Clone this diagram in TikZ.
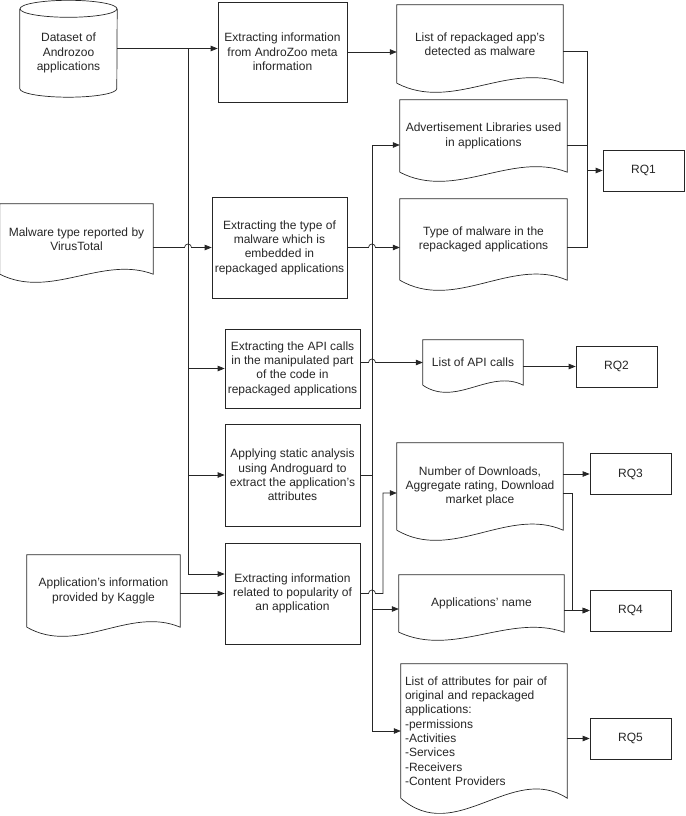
\documentclass[tikz,border=0pt]{standalone}
\usepackage{fontspec}
\setmainfont{Liberation Sans}
\usepackage{xcolor}
\usepackage{tikz}
\usetikzlibrary{arrows.meta, calc}
\definecolor{ink}{HTML}{262626}

% document outline with a wavy bottom, drawn round a node
\newcommand{\docshape}[2]{%
  \draw[wire] (#1.south west) -- (#1.north west) -- (#1.north east) -- (#1.south east)
    .. controls ($(#1.south east)!0.33!(#1.south west)+(0pt,2.4*#2pt)$)
    and ($(#1.south west)!0.33!(#1.south east)+(0pt,-3.2*#2pt)$) .. (#1.south west);}

\begin{document}
\begin{tikzpicture}[
  x=1pt, y=-1pt,
  every node/.style={font=\fontsize{12}{14.3}\selectfont, text=ink},
  wire/.style={draw=ink, line width=0.7pt},
  arr/.style={wire, -{Triangle[length=7pt, width=5.5pt]}},
  proc/.style={draw=ink, line width=0.7pt, rectangle, align=center, inner sep=1pt},
  docnode/.style={rectangle, align=center, inner sep=1pt}
]
\useasboundingbox (0,0) rectangle (685,816);

% sources
\node[align=center, minimum width=97pt, minimum height=88pt] (data) at (68.5,53)
      {Dataset of\\Androzoo\\applications};
\draw[wire] (data.north west) -- ($(data.south west)+(0pt,8.5pt)$)
  arc[start angle=180, end angle=360, x radius=48.5pt, y radius=8.5pt]
  -- (data.north east);
\draw[wire] (data.north) ellipse[x radius=48.5pt, y radius=8.5pt];
\node[docnode, minimum width=153pt, minimum height=70pt] (virus) at (76.5,239)
      {Malware type reported by\\VirusTotal};
\node[docnode, minimum width=153pt, minimum height=72pt] (kaggle) at (103.5,591)
      {Application’s information\\provided by Kaggle};

% processing steps
\node[proc, minimum width=129pt, minimum height=100pt] (meta) at (282.5,52)
      {Extracting information\\from AndroZoo meta\\information};
\node[proc, minimum width=135pt, minimum height=101pt] (kind) at (279.5,247.5)
      {Extracting the type of\\malware which is\\embedded in\\repackaged applications};
\node[proc, minimum width=135pt, minimum height=79pt] (api) at (292.5,368.5)
      {Extracting the API calls\\in the manipulated part\\of the code in\\repackaged applications};
\node[proc, minimum width=135pt, minimum height=102pt] (static) at (292.5,475)
      {Applying static analysis\\using Androguard to\\extract the application’s\\attributes};
\node[proc, minimum width=135pt, minimum height=101pt] (popular) at (292.5,593.5)
      {Extracting information\\related to popularity of\\an application};

% results
\node[docnode, minimum width=166pt, minimum height=78pt] (rep) at (480,44)
      {List of repackaged app’s\\detected as malware};
\node[docnode, minimum width=167pt, minimum height=72pt] (ads) at (483.5,136)
      {Advertisement Libraries used\\in applications};
\node[docnode, minimum width=167pt, minimum height=81pt] (mal) at (483.5,239.5)
      {Type of malware in the\\repackaged applications};
\node[docnode, minimum width=100pt, minimum height=45pt] (calls) at (473,362.5)
      {List of API calls};
\node[docnode, minimum width=166pt, minimum height=87pt] (pop) at (480,486.5)
      {Number of Downloads,\\Aggregate rating, Download\\market place};
\node[docnode, minimum width=165pt, minimum height=57pt] (names) at (481.5,603.5)
      {Applications’ name};
\node[docnode, align=left, text width=158pt, inner xsep=3pt, minimum width=166pt,
      minimum height=134pt] (attr) at (484,731)
      {List of attributes for pair of\\original and repackaged\\applications:\\-permissions\\-Activities\\-Services\\-Receivers\\-Content Providers};

\docshape{virus}{8}
\docshape{kaggle}{9}
\docshape{rep}{9}
\docshape{ads}{9}
\docshape{mal}{10}
\docshape{calls}{7}
\docshape{pop}{10}
\docshape{names}{8}
\docshape{attr}{15}

% research questions
\node[proc, minimum width=81pt, minimum height=41pt] (rq1) at (643.5,170.5) {RQ1};
\node[proc, minimum width=81pt, minimum height=41pt] (rq2) at (616.5,366.5) {RQ2};
\node[proc, minimum width=81pt, minimum height=41pt] (rq3) at (630.5,474) {RQ3};
\node[proc, minimum width=81pt, minimum height=41pt] (rq4) at (630.5,610.5) {RQ4};
\node[proc, minimum width=81pt, minimum height=41pt] (rq5) at (630.5,738.5) {RQ5};

% junctions
\coordinate (t1) at (188,48.5);
\coordinate (t2) at (372,145);
\coordinate (t3) at (383,0);
\coordinate (t4) at (587,0);
\coordinate (t5) at (572,0);

% left trunk
\draw[arr] (data.east |- t1) -- (t1 -| meta.west);
\draw[arr] (t1) |- ($(popular.west)+(0pt,19.5pt)$);
\draw[arr] (t1 |- api.west) -- (api.west);
\draw[arr] (t1 |- static.west) -- (static.west);
\draw[arr] (kaggle.east |- popular.west) -- (popular.west);
\draw[arr] (virus.east |- kind.west) -- ($(t1 |- kind.west)+(-3.5pt,0pt)$)
  arc[start angle=180, end angle=0, radius=3.5pt] -- (kind.west);

% steps to results
\draw[arr] (meta.east) -- (meta.east -| rep.west);
\draw[arr] (kind.east) -- ($(t2 |- kind.east)+(-3.5pt,0pt)$)
  arc[start angle=180, end angle=0, radius=3.5pt] -- (kind.east -| mal.west);
\draw[arr] (api.east |- calls.west) -- ($(t2 |- calls.west)+(-3.5pt,0pt)$)
  arc[start angle=180, end angle=0, radius=3.5pt] -- (calls.west);
\draw[arr] (static.east) -- (static.east -| t2) |- ($(ads.west)+(0pt,-9pt)$);
\draw[arr] (static.east -| t2) |- (attr.west);
\draw[arr] ($(t2 |- names.west)+(0pt,-5.5pt)$) -- ($(names.west)+(0pt,-5.5pt)$);
\draw[arr] (popular.east) -- ($(t2 |- popular.east)+(-3.5pt,0pt)$)
  arc[start angle=180, end angle=0, radius=3.5pt] -- (t3 |- popular.east)
  |- ($(pop.west)+(0pt,-6.5pt)$);

% results to questions
\draw[wire] ($(rep.east)+(0pt,-7pt)$) -| ($(t4 |- mal.east)+(0pt,-8pt)$)
  -- ($(mal.east)+(0pt,-8pt)$);
\draw[wire] ($(ads.east)+(0pt,-9pt)$) -- ($(t4 |- ads.east)+(0pt,-9pt)$);
\draw[arr] (t4 |- rq1.west) -- (rq1.west);
\draw[arr] (calls.east |- rq2.west) -- (rq2.west);
\draw[arr] (pop.east |- rq3.west) -- (rq3.west);
\draw[arr] ($(pop.east)+(0pt,-6.5pt)$) -| (t5 |- rq4.west) -- (rq4.west);
\draw[arr] (names.east |- rq4.west) -- (rq4.west);
\draw[arr] (attr.east |- rq5.west) -- (rq5.west);
\end{tikzpicture}
\end{document}
